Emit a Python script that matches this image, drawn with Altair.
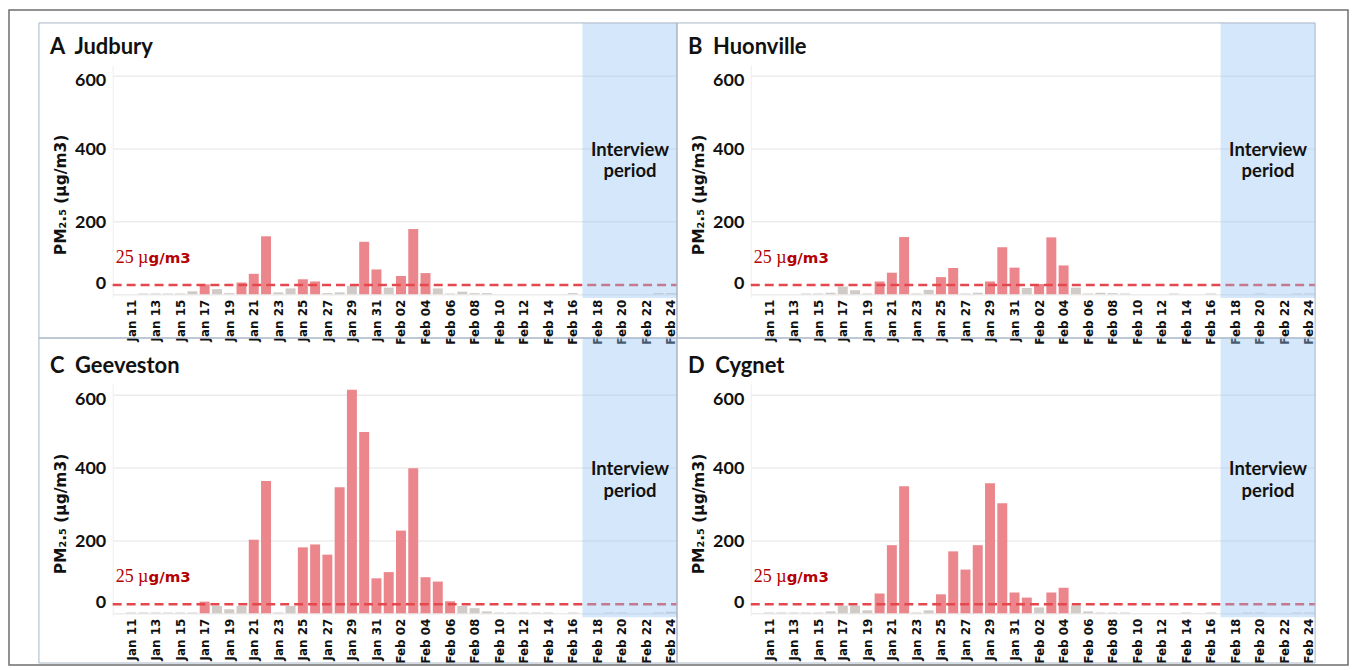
import altair as alt
import pandas as pd

# ---------------- data ----------------
dates = pd.date_range("2019-01-11", "2019-02-24", freq="D")
date_labels = [d.strftime("%Y-%m-%d") for d in dates]

#            Jan 11 .............................. Jan 20
judbury   = [0, 2, 2, 2, 2, 8, 27, 14, 3, 32,
             56, 159, 5, 16, 41, 35, 3, 5, 23, 144, 68,      # Jan 21-31
             18, 50, 179, 58, 16, 2, 7, 3, 3, 0,             # Feb 1-10
             0, 0, 0, 0, 0, 3, 0, 0, 0, 0,                   # Feb 11-20
             0, 0, 3, 3]                                     # Feb 21-24
huonville = [0, 0, 0, 2, 2, 4, 21, 11, 2, 35,
             59, 157, 2, 12, 47, 72, 2, 4, 35, 129, 73,
             17, 28, 156, 79, 18, 2, 4, 3, 2, 0,
             0, 0, 2, 0, 0, 2, 0, 0, 0, 2,
             0, 0, 2, 2]
geeveston = [2, 2, 2, 2, 2, 2, 32, 20, 11, 20,
             202, 363, 2, 20, 181, 189, 161, 346, 614, 498, 96,
             113, 227, 398, 99, 87, 33, 20, 14, 5, 2,
             2, 2, 2, 2, 0, 2, 0, 0, 2, 2,
             0, 0, 2, 4]
cygnet    = [2, 2, 2, 2, 2, 5, 21, 21, 8, 54,
             187, 349, 2, 8, 52, 170, 120, 187, 357, 302, 57,
             43, 16, 57, 70, 21, 5, 2, 2, 2, 0,
             0, 0, 0, 2, 0, 2, 0, 0, 2, 2,
             0, 0, 2, 2]

site_letters = ["A", "B", "C", "D"]
site_names = ["Judbury", "Huonville", "Geeveston", "Cygnet"]
site_values = [judbury, huonville, geeveston, cygnet]

y_ticks = [0, 200, 400, 600]
threshold = 25
x_domain = ["2019-01-09 12:00", "2019-02-24 12:00"]
interview_start = "2019-02-16 19:00"
interview_mid = "2019-02-20 16:00"

# ---------------- styles / geometry ----------------
PW, PH = 566, 233          # plot area of each panel
EXTRA_W = 600 - PW         # right margin kept inside B / D cells
EXTRA_H = 50               # bottom margin kept inside C / D cells
RED = "#eb878c"
GRAY = "#d0cbc7"
DASH = "#e4474d"
DARKRED = "#b30000"
BLUE = "#96c6f5"
INK = "#111111"
PANEL_STROKE = "#a9b6c6"
FRAME_STROKE = "#6e6e6e"
XLAB_SIZE = 12


def dt(s):
    t = pd.Timestamp(s)
    return alt.DateTime(year=t.year, month=t.month, date=t.day,
                        hours=t.hour, minutes=t.minute, utc=True)


xscale = alt.Scale(type="utc", domain=[dt(x_domain[0]), dt(x_domain[1])],
                   range=[0, PW], padding=0)
yscale = alt.Scale(domain=[-8, 630], nice=False, range=[PH, 0])

one = pd.DataFrame({"k": [0]})


def panel(i):
    letter, name, vals = site_letters[i], site_names[i], site_values[i]
    top_row = i < 2
    right_col = i % 2 == 1
    top = -42 if top_row else -46
    bottom = 274 if top_row else 280
    width = PW + (EXTRA_W if right_col else 0)
    height = PH + (0 if top_row else EXTRA_H)

    xaxis = alt.Axis(
        values=[dt(d) for d in dates[::2]], format="%b %d", labelAngle=270,
        labelFont="DejaVu Sans", labelFontWeight="bold", labelFontSize=XLAB_SIZE,
        labelColor=INK, labelPadding=2, labelOverlap=False, labelFlush=False,
        labelBound=False, ticks=False, domain=False, grid=False, title=None,
        offset=0 if top_row else -EXTRA_H)
    yaxis = alt.Axis(
        values=y_ticks, grid=True, gridColor="#ececec", gridWidth=1.5,
        domain=True, domainColor="#eeeeee", ticks=False,
        labelFont="Lato", labelFontWeight="bold", labelFontSize=18,
        labelColor=INK, labelPadding=7, labelOverlap=False,
        labelOffset={"condition": [{"test": "datum.value === 0", "value": -11},
                                   {"test": "datum.value === 600", "value": 5}],
                     "value": 1},
        title="PM₂.₅ (µg/m3)", titleX=-52, titleY=130, titleAngle=270,
        titleAlign="center", titleBaseline="middle", titleFont="DejaVu Sans",
        titleFontSize=15.5, titleFontWeight="bold", titleColor=INK)

    df = pd.DataFrame({"date": date_labels, "pm": vals})
    df["level"] = ["above" if v > threshold else "below" for v in vals]

    def X(d):
        return alt.X(datum=dt(d), scale=xscale, axis=xaxis)

    def Y(v):
        return alt.Y(datum=v, scale=yscale, axis=yaxis)

    bars = alt.Chart(df).mark_bar(size=10).encode(
        x=alt.X("date:T", scale=xscale, axis=xaxis),
        y=alt.Y("pm:Q", scale=yscale, axis=yaxis),
        y2=alt.Y2(datum=0),
        color=alt.Color("level:N", scale=alt.Scale(domain=["below", "above"],
                                                  range=[GRAY, RED]),
                        legend=None),
    )
    rule = alt.Chart(one).mark_rule(color=DASH, strokeWidth=2.5,
                                    strokeDash=[9, 5]).encode(
        x=X(x_domain[0]), x2=alt.X2(datum=dt(x_domain[1])), y=Y(threshold))
    lab_num = alt.Chart(one).mark_text(
        text=f"{threshold} µ", align="left", baseline="alphabetic",
        font="Liberation Serif", fontSize=18, color=DARKRED, dx=3).encode(
        x=X(x_domain[0]), y=Y(86))
    lab_unit = alt.Chart(one).mark_text(
        text="g/m3", align="left", baseline="alphabetic",
        font="DejaVu Sans", fontWeight="bold", fontSize=15, color=DARKRED,
        dx=36).encode(x=X(x_domain[0]), y=Y(86))
    shade = alt.Chart(one).mark_rect(color=BLUE, opacity=0.4).encode(
        x=X(interview_start), x2=alt.X2(datum=dt(x_domain[1])),
        y=alt.value(top), y2=alt.value(PH + 1))
    int1 = alt.Chart(one).mark_text(
        text="Interview", align="center", baseline="middle", font="Lato",
        fontWeight="bold", fontSize=18.5, color=INK).encode(
        x=X(interview_mid), y=Y(397))
    int2 = alt.Chart(one).mark_text(
        text="period", align="center", baseline="middle", font="Lato",
        fontWeight="bold", fontSize=18.5, color=INK).encode(
        x=X(interview_mid), y=Y(337))
    title = alt.Chart(one).mark_text(
        text=f"{letter}\u00a0\u00a0{name}", align="left", baseline="middle",
        font="Lato", fontWeight="bold", fontSize=22, color=INK).encode(
        x=alt.value(-63), y=alt.value(-18))
    border = alt.Chart(one).mark_rect(
        fill="white", fillOpacity=0, stroke=PANEL_STROKE, strokeWidth=1).encode(
        x=alt.value(-74), x2=alt.value(PW), y=alt.value(top), y2=alt.value(bottom))
    layers = [bars, rule, lab_num, lab_unit, shade, int1, int2, title, border]
    if i == 0:
        frame = alt.Chart(one).mark_rect(
            fill="white", fillOpacity=0, stroke=FRAME_STROKE, strokeWidth=1.5).encode(
            x=alt.value(-104), x2=alt.value(PW + 74 + PW + EXTRA_W - 1),
            y=alt.value(-55), y2=alt.value(PH + 87 + PH + EXTRA_H - 1))
        layers.append(frame)
    return alt.layer(*layers).properties(width=width, height=height)


chart = alt.concat(
    *[panel(i) for i in range(4)], columns=2,
    spacing={"row": 87, "column": 74}, bounds="flush"
).properties(padding=0, background="white").configure_view(
    strokeWidth=0
).configure_axisX(labelOverlap=False, labelFontSize=XLAB_SIZE,
                  labelFont="DejaVu Sans", labelFontWeight="bold")

chart.save("out.html", embed_options={"renderer": "svg", "actions": False})
